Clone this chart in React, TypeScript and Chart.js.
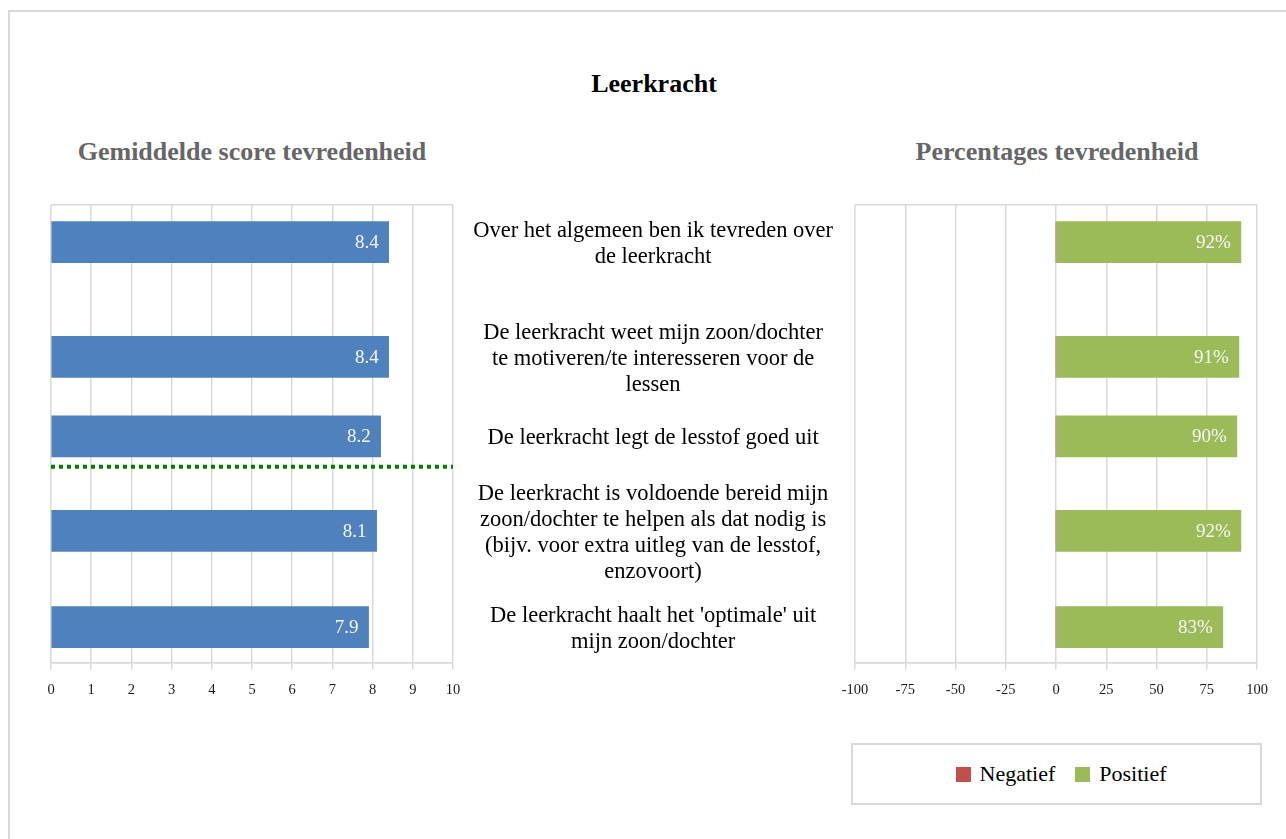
import React, { useEffect, useRef } from 'react';
import { Chart, registerables } from 'chart.js';

Chart.register(...registerables);

// ---------- data ----------
const categories: string[][] = [
  ['Over het algemeen ben ik tevreden over', 'de leerkracht'],
  ['De leerkracht weet mijn zoon/dochter', 'te motiveren/te interesseren voor de', 'lessen'],
  ['De leerkracht legt de lesstof goed uit'],
  ['De leerkracht is voldoende bereid mijn', 'zoon/dochter te helpen als dat nodig is', '(bijv. voor extra uitleg van de lesstof,', 'enzovoort)'],
  ["De leerkracht haalt het 'optimale' uit", 'mijn zoon/dochter'],
];
const meanScores = [8.4, 8.4, 8.2, 8.1, 7.9];
const negatief = [0, 0, 0, 0, 0];
const positief = [92, 91, 90, 92, 83];
const scoreTicks = [0, 1, 2, 3, 4, 5, 6, 7, 8, 9, 10];
const pctTicks = [-100, -75, -50, -25, 0, 25, 50, 75, 100];
const seriesNames = ['Negatief', 'Positief'];

const chartTitle = 'Leerkracht';
const leftTitle = 'Gemiddelde score tevredenheid';
const rightTitle = 'Percentages tevredenheid';

// ---------- layout / style ----------
const rowPos = [0.081, 0.332, 0.5055, 0.712, 0.9225]; // relative row centres (0 = top, 1 = bottom)
const separatorPos = 0.572;
const FONT = "'Liberation Serif', 'Times New Roman', Times, serif";
const GRID = '#d9d9d9';
const BLUE = '#4f81bd';
const GREEN = '#9bbb59';
const RED = '#c0504d';
const seriesColors = [RED, GREEN];

const noScalePadding = (s: any) => {
  s.paddingTop = 0;
  s.paddingBottom = 0;
  s.paddingLeft = 0;
  s.paddingRight = 0;
};

const valueLabels = {
  id: 'valueLabels',
  afterDatasetsDraw(chart: any, _args: any, opts: any) {
    const ctx = chart.ctx;
    ctx.save();
    ctx.font = `19px ${FONT}`;
    ctx.fillStyle = '#f7f7f7';
    ctx.textAlign = 'right';
    ctx.textBaseline = 'middle';
    chart.data.datasets.forEach((ds: any, di: number) => {
      if (ds.type !== 'bar') return;
      const meta = chart.getDatasetMeta(di);
      meta.data.forEach((bar: any, i: number) => {
        const v = ds.data[i].x;
        if (!v) return;
        ctx.fillText(opts.format(v), bar.x - 10, bar.y + 1);
      });
    });
    ctx.restore();
  },
};

function LeftChart() {
  const ref = useRef<HTMLCanvasElement>(null);
  useEffect(() => {
    const chart = new Chart(ref.current as HTMLCanvasElement, {
      type: 'bar',
      data: {
        datasets: [
          {
            type: 'bar',
            label: 'Gemiddelde score',
            data: meanScores.map((v, i) => ({ x: v, y: rowPos[i] })),
            backgroundColor: BLUE,
            barThickness: 41,
            grouped: false,
          } as any,
          {
            type: 'line',
            label: 'scheiding',
            data: [
              { x: scoreTicks[0], y: separatorPos },
              { x: scoreTicks[scoreTicks.length - 1], y: separatorPos },
            ],
            borderColor: '#008000',
            borderWidth: 4,
            borderDash: [4, 4],
            borderCapStyle: 'butt',
            pointRadius: 0,
          } as any,
        ],
      },
      options: {
        indexAxis: 'y',
        animation: false,
        responsive: false,
        layout: { padding: { left: 15, right: 13, top: 15, bottom: 0 } },
        plugins: {
          legend: { display: false },
          tooltip: { enabled: false },
          valueLabels: { format: (v: number) => v.toFixed(1) },
        } as any,
        scales: {
          x: {
            type: 'linear',
            min: scoreTicks[0],
            max: scoreTicks[scoreTicks.length - 1],
            afterBuildTicks: (s: any) => { s.ticks = scoreTicks.map((v) => ({ value: v })); },
            afterFit: noScalePadding,
            grid: { color: GRID, lineWidth: 1.5, tickLength: 7 },
            border: { color: GRID, width: 1.5 },
            ticks: { font: { family: FONT, size: 14.5 }, color: '#1a1a1a', padding: 12, callback: (v: any) => String(v) },
          },
          y: {
            type: 'linear',
            reverse: true,
            offset: false,
            min: 0,
            max: 1,
            afterBuildTicks: (s: any) => { s.ticks = [{ value: 0 }, { value: 1 }]; },
            afterFit: noScalePadding,
            grid: { color: GRID, lineWidth: 1.5, drawTicks: false, offset: false },
            border: { display: false },
            ticks: { display: false },
          },
        },
      } as any,
      plugins: [valueLabels],
    });
    return () => chart.destroy();
  }, []);
  return <canvas ref={ref} width={430} height={521} style={{ position: 'absolute', left: 36, top: 190 }} />;
}

function RightChart() {
  const ref = useRef<HTMLCanvasElement>(null);
  useEffect(() => {
    const chart = new Chart(ref.current as HTMLCanvasElement, {
      type: 'bar',
      data: {
        datasets: [
          {
            type: 'bar',
            label: seriesNames[0],
            data: negatief.map((v, i) => ({ x: -v, y: rowPos[i] })),
            backgroundColor: seriesColors[0],
            barThickness: 41,
            grouped: false,
          } as any,
          {
            type: 'bar',
            label: seriesNames[1],
            data: positief.map((v, i) => ({ x: v, y: rowPos[i] })),
            backgroundColor: seriesColors[1],
            barThickness: 41,
            grouped: false,
          } as any,
        ],
      },
      options: {
        indexAxis: 'y',
        animation: false,
        responsive: false,
        layout: { padding: { left: 0, right: 15, top: 15, bottom: 0 } },
        plugins: {
          legend: { display: false },
          tooltip: { enabled: false },
          valueLabels: { format: (v: number) => `${Math.abs(v)}%` },
        } as any,
        scales: {
          x: {
            type: 'linear',
            min: pctTicks[0],
            max: pctTicks[pctTicks.length - 1],
            afterBuildTicks: (s: any) => { s.ticks = pctTicks.map((v) => ({ value: v })); },
            afterFit: noScalePadding,
            grid: { color: GRID, lineWidth: 1.5, tickLength: 7 },
            border: { color: GRID, width: 1.5 },
            ticks: { font: { family: FONT, size: 14.5 }, color: '#1a1a1a', padding: 12, callback: (v: any) => String(v) },
          },
          y: {
            type: 'linear',
            reverse: true,
            offset: false,
            min: 0,
            max: 1,
            afterBuildTicks: (s: any) => { s.ticks = [{ value: 0 }, ...rowPos.map((v) => ({ value: v })), { value: 1 }]; },
            afterFit: (s: any) => { s.width = 395; noScalePadding(s); },
            grid: {
              color: (c: any) => (c.tick && (c.tick.value === 0 || c.tick.value === 1) ? GRID : 'rgba(0,0,0,0)'),
              lineWidth: 1.5,
              drawTicks: false,
              offset: false,
            },
            border: { display: false },
            ticks: {
              autoSkip: false,
              crossAlign: 'center',
              padding: 22,
              labelOffset: 2,
              color: '#000',
              font: { family: FONT, size: 22.5, lineHeight: 26 / 22.5 },
              callback: (_v: any, i: number) => (i >= 1 && i <= categories.length ? categories[i - 1] : ''),
            },
          },
        },
      } as any,
      plugins: [valueLabels],
    });
    return () => chart.destroy();
  }, []);
  return <canvas ref={ref} width={812} height={521} style={{ position: 'absolute', left: 460, top: 190 }} />;
}

export default function App() {
  const headStyle: React.CSSProperties = {
    position: 'absolute',
    fontFamily: FONT,
    fontWeight: 'bold',
    fontSize: 26,
    lineHeight: '30px',
    textAlign: 'center',
    whiteSpace: 'nowrap',
  };
  return (
    <div style={{ position: 'fixed', left: 0, top: 0, width: 1286, height: 839, overflow: 'hidden', background: '#fff' }}>
      <div
        style={{
          position: 'absolute',
          left: 8,
          top: 10,
          width: 1400,
          height: 900,
          borderLeft: `2px solid ${GRID}`,
          borderTop: `2px solid ${GRID}`,
        }}
      />
      <div style={{ ...headStyle, left: 0, width: 1308, top: 69, color: '#000' }}>{chartTitle}</div>
      <div style={{ ...headStyle, left: 52, width: 400, top: 137, color: '#666' }}>{leftTitle}</div>
      <div style={{ ...headStyle, left: 857, width: 400, top: 137, color: '#666' }}>{rightTitle}</div>
      <LeftChart />
      <RightChart />
      <div
        style={{
          position: 'absolute',
          left: 851,
          top: 743,
          width: 411,
          height: 62,
          boxSizing: 'border-box',
          border: `2px solid ${GRID}`,
          display: 'flex',
          alignItems: 'center',
          justifyContent: 'center',
          paddingLeft: 9,
          fontFamily: FONT,
          fontSize: 22,
          color: '#000',
        }}
      >
        {seriesNames.map((name, i) => (
          <div key={name} style={{ display: 'flex', alignItems: 'center', marginLeft: i === 0 ? 0 : 20 }}>
            <span style={{ display: 'inline-block', width: 15, height: 15, background: seriesColors[i], marginRight: 9 }} />
            <span>{name}</span>
          </div>
        ))}
      </div>
    </div>
  );
}
